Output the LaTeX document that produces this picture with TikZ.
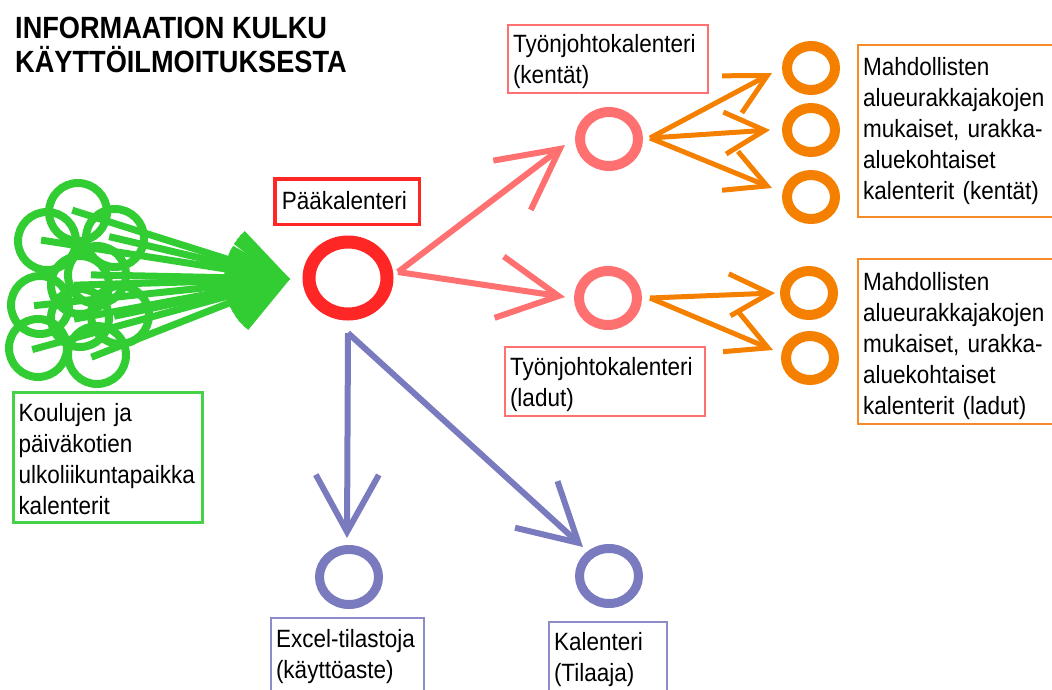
\documentclass[tikz,border=0pt]{standalone}
\usepackage{fontspec}
\setmainfont{Liberation Sans}[FakeStretch=0.9]
\newfontfamily\titlefont{Liberation Sans}[FakeStretch=0.885]
\usetikzlibrary{arrows.meta,shapes.geometric}
\definecolor{flowred}{RGB}{255,38,38}
\definecolor{flowpink}{RGB}{255,112,112}
\definecolor{floworange}{RGB}{245,128,0}
\definecolor{flowblue}{RGB}{122,122,190}
\definecolor{flowgreen}{RGB}{50,205,50}
\definecolor{boxorange}{RGB}{245,140,40}
\definecolor{boxgreen}{RGB}{70,210,70}
\definecolor{boxblue}{RGB}{140,140,200}

\begin{document}
\begin{tikzpicture}[x=1pt,y=-1pt,
    ring/.style={ellipse,draw,inner sep=0pt,outer sep=0pt},
    lbl/.style={draw,anchor=north west,inner xsep=5pt,inner ysep=0pt,outer sep=0pt,
        align=left,font=\fontsize{25}{31}\selectfont},
    greenarrow/.style={draw=flowgreen,line width=7pt,-{Straight Barb[length=52pt,width=58pt]}},
    pinkarrow/.style={draw=flowpink,line width=6pt,-{Straight Barb[length=60pt,width=62pt]}},
    orangearrow/.style={draw=floworange,line width=5pt,-{Straight Barb[length=40pt,width=42pt]}},
    bluearrow/.style={draw=flowblue,line width=6pt,-{Straight Barb[length=57pt,width=63pt]}}]
    \useasboundingbox (0,0) rectangle (1052,689);

    % Title
    \node[anchor=north west,inner sep=0pt,align=left,
        font=\titlefont\bfseries\fontsize{30.7}{34}\selectfont] (title) at (15,13)
        {\rule{0pt}{25pt}INFORMAATION KULKU\\KÄYTTÖILMOITUKSESTA};

    % Rings
    \node[ring,draw=flowred,line width=13pt,minimum width=78pt,minimum height=72pt] (paa) at (348,278) {};
    \node[ring,draw=flowpink,line width=10pt,minimum width=58pt,minimum height=54pt] (tyo1) at (609,139) {};
    \node[ring,draw=flowpink,line width=10pt,minimum width=58pt,minimum height=54pt] (tyo2) at (608,298) {};
    \foreach \n/\x/\y in {1/811/68, 2/811/130, 3/811/197, 4/809/293, 5/810/358}
        \node[ring,draw=floworange,line width=10pt,minimum width=48pt,minimum height=44pt] (alue\n) at (\x,\y) {};
    \node[ring,draw=flowblue,line width=9pt,minimum width=59pt,minimum height=55pt] (excel) at (349,577) {};
    \node[ring,draw=flowblue,line width=9pt,minimum width=59pt,minimum height=55pt] (tilaaja) at (609,576) {};

    % School calendars
    \foreach \n/\x/\y in {1/78/212, 2/47/241, 3/115/238, 4/97/275, 5/80/285,
                          6/40/305, 7/120/315, 8/80/318, 9/38/348, 10/97/355}
        \node[circle,draw=flowgreen,line width=8pt,minimum size=58pt,inner sep=0pt] (koulu\n) at (\x,\y) {};
    \coordinate (gtip) at ([shift={(-19,1)}]paa.west);
    \foreach \n in {1,...,10}
        \draw[greenarrow,shorten <=-6pt] (koulu\n.center) -- (gtip);

    % Labels
    \node[lbl,draw=boxgreen,line width=2.5pt,text width=179pt] (kouluteksti) at (13.5,392.5)
        {\rule{0pt}{28.5pt}Koulujen ja\\päiväkotien\\ulkoliikuntapaikka\\kalenterit\rule[-8.5pt]{0pt}{8.5pt}};
    \node[lbl,draw=flowred,line width=3.5pt,inner xsep=7pt,text width=130.5pt] (paateksti) at (274.75,178.75)
        {\rule{0pt}{30.25pt}Pääkalenteri\rule[-15.25pt]{0pt}{15.25pt}};
    \node[lbl,draw=flowpink,line width=2pt,text width=190pt] (tyo1teksti) at (508,25)
        {\rule{0pt}{27pt}Työnjohtokalenteri\\(kentät)\rule[-10pt]{0pt}{10pt}};
    \node[lbl,draw=flowpink,line width=2pt,text width=190pt] (tyo2teksti) at (505,347)
        {\rule{0pt}{28pt}Työnjohtokalenteri\\(ladut)\rule[-10pt]{0pt}{10pt}};
    \node[lbl,draw=boxorange,line width=2pt,text width=200pt] (alue1teksti) at (858,45)
        {\rule{0pt}{30pt}Mahdollisten\\alueurakkajakojen\\mukaiset, urakka-\\aluekohtaiset\\kalenterit (kentät)\rule[-18pt]{0pt}{18pt}};
    \node[lbl,draw=boxorange,line width=2pt,text width=200pt] (alue2teksti) at (858,259)
        {\rule{0pt}{31pt}Mahdollisten\\alueurakkajakojen\\mukaiset, urakka-\\aluekohtaiset\\kalenterit (ladut)\rule[-10pt]{0pt}{10pt}};
    \node[lbl,draw=boxblue,line width=2pt,text width=143pt] (excelteksti) at (271,618)
        {\rule{0pt}{29pt}Excel-tilastoja\\(käyttöaste)\rule[-20pt]{0pt}{20pt}};
    \node[lbl,draw=boxblue,line width=2pt,text width=108pt] (tilaajateksti) at (549,622)
        {\rule{0pt}{28pt}Kalenteri\\(Tilaaja)\rule[-20pt]{0pt}{20pt}};

    % Main calendar to work calendars
    \coordinate (paaulos) at ([shift={(11,-6)}]paa.east);
    \draw[pinkarrow] (paaulos) -- ([shift={(-15,6)}]tyo1.west);
    \draw[pinkarrow] (paaulos) -- ([shift={(-14,-1)}]tyo2.west);

    % Work calendars to area calendars
    \coordinate (tyo1ulos) at ([shift={(12,-1)}]tyo1.east);
    \draw[orangearrow] (tyo1ulos) -- ([shift={(-15,5)}]alue1.west);
    \draw[orangearrow] (tyo1ulos) -- ([shift={(-17,0)}]alue2.west);
    \draw[orangearrow] (tyo1ulos) -- ([shift={(-15,-9)}]alue3.west);
    \coordinate (tyo2ulos) at ([shift={(13,0)}]tyo2.east);
    \draw[orangearrow] (tyo2ulos) -- ([shift={(-10,0)}]alue4.west);
    \draw[orangearrow] (tyo2ulos) -- ([shift={(-13,-8)}]alue5.west);

    % Main calendar to statistics and orderer
    \coordinate (paaalas) at ([shift={(0,19)}]paa.south);
    \draw[bluearrow] (paaalas) -- ([shift={(-2,-11.5)}]excel.north);
    \draw[bluearrow] (paaalas) -- ([shift={(-26,-29)}]tilaaja.center);
\end{tikzpicture}
\end{document}
